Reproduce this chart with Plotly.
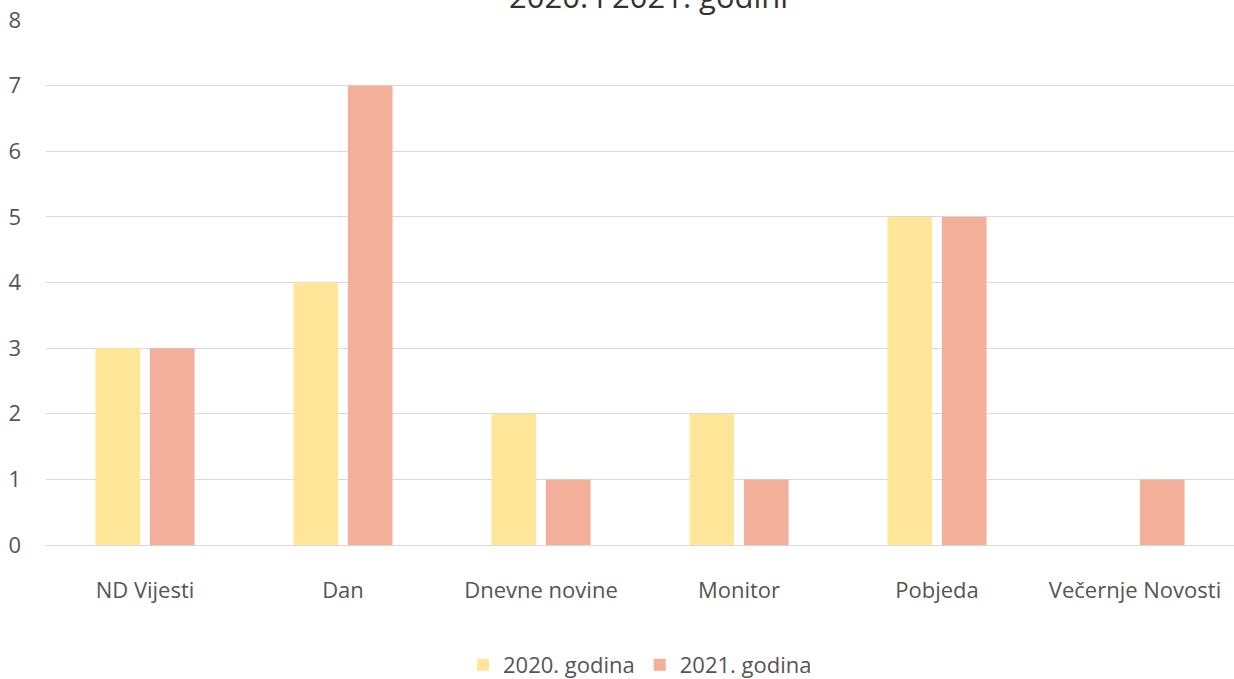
import plotly.graph_objects as go

categories = ["ND Vijesti", "Dan", "Dnevne novine", "Monitor", "Pobjeda", "Večernje Novosti"]
values_2020 = [3, 4, 2, 2, 5, 0]
values_2021 = [3, 7, 1, 1, 5, 1]
series_names = ["2020. godina", "2021. godina"]
title_text = "2020. i 2021. godini"

FONT = "'Open Sans', Lato, sans-serif"
GREY = "#555555"

fig = go.Figure()
fig.add_trace(go.Bar(x=categories, y=values_2020, name=series_names[0],
                     marker=dict(color="#FFE699", line=dict(width=0))))
fig.add_trace(go.Bar(x=categories, y=values_2021, name=series_names[1],
                     marker=dict(color="#F4AF9B", line=dict(width=0))))

fig.update_layout(
    width=1234, height=679,
    paper_bgcolor="white", plot_bgcolor="white",
    margin=dict(l=46, r=0, t=20, b=134, autoexpand=False),
    barmode="group", bargap=0.45, bargroupgap=0.18,
    font=dict(family=FONT, size=22, color=GREY),
    legend=dict(orientation="h", x=0.5, xanchor="center", y=1 - 665/679, yref="container",
                yanchor="middle", font=dict(family=FONT, size=22, color=GREY),
                itemwidth=30, traceorder="normal"),
    showlegend=True,
)
fig.add_annotation(text=title_text, xref="paper", yref="paper", x=(648 - 46) / 1188,
                   y=1 + 24 / 525, xanchor="center", yanchor="middle", showarrow=False,
                   font=dict(family=FONT, size=31, color="#333333"))
fig.update_xaxes(showgrid=False, showline=False, ticks="", ticklabelstandoff=30,
                 automargin=False, tickfont=dict(family=FONT, size=22, color=GREY))
fig.update_yaxes(range=[0, 8], dtick=1, showgrid=True, gridcolor="#D9D9D9", gridwidth=1,
                 zeroline=True, zerolinecolor="#D9D9D9", zerolinewidth=1, showline=False,
                 ticks="", ticklabelstandoff=24, automargin=False,
                 tickfont=dict(family=FONT, size=22, color=GREY))

fig.write_html("out.html", config={"displayModeBar": False},
               post_script="document.body.style.margin='0px';document.body.style.overflow='hidden';")
